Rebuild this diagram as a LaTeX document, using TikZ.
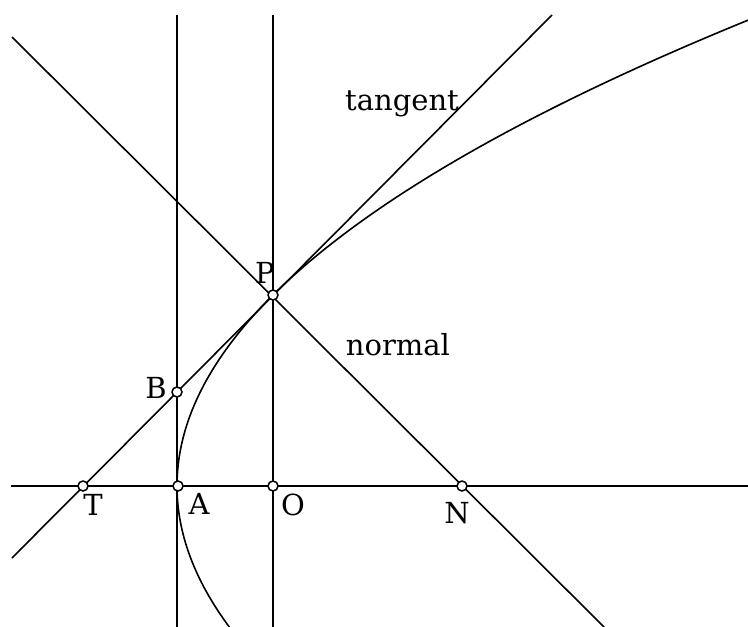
\documentclass[tikz,border=0pt]{standalone}
\usepackage{fontspec}
\setmainfont{DejaVu Serif}
\begin{document}
\begin{tikzpicture}[x=1pt,y=-1pt]
\tikzset{
  ln/.style={line width=2pt},
  dg/.style={line width=1.6pt},
  pt/.style={circle,draw,fill=white,inner sep=0pt,minimum size=10pt,line width=1.5pt},
  lbl/.style={font=\fontsize{29}{34}\selectfont,inner sep=0pt}
}
\useasboundingbox (0,0) rectangle (748,627);
% end points
\coordinate (axL) at (11,486);  \coordinate (axR) at (748,486);
\coordinate (v1t) at (177,15);  \coordinate (v1b) at (177,627);
\coordinate (v2t) at (273,15);  \coordinate (v2b) at (273,627);
\coordinate (tgL) at (12,558);  \coordinate (tgR) at (552,15);
\coordinate (nmL) at (12,37);   \coordinate (nmR) at (604,627);
% lines
\draw[ln] (axL) -- (axR);
\draw[ln] (v1t) -- (v1b);
\draw[ln] (v2t) -- (v2b);
\draw[dg] (tgL) -- (tgR);
\draw[dg] (nmL) -- (nmR);
% parabola
\draw[dg] plot[domain=-46.6:14.1,samples=200,variable=\s,smooth] ({177+\s*\s/3.8},{486+10*\s});
% points
\node[pt] (T) at (83,486) {};
\node[pt] (A) at (178,486) {};
\node[pt] (O) at (273,486) {};
\node[pt] (N) at (462,486) {};
\node[pt] (B) at (177,392) {};
\node[pt] (P) at (273,295) {};
% labels
\node[lbl] (lT) at (93,505) {T};
\node[lbl] (lA) at (199,504) {A};
\node[lbl] (lO) at (293,505) {O};
\node[lbl] (lN) at (457,513) {N};
\node[lbl] (lB) at (156,388) {B};
\node[lbl] (lP) at (265,273) {P};
\node[lbl,anchor=base] (ltan) at (402,110) {tangent};
\node[lbl,anchor=base] (lnor) at (398,355) {normal};
\end{tikzpicture}
\end{document}
